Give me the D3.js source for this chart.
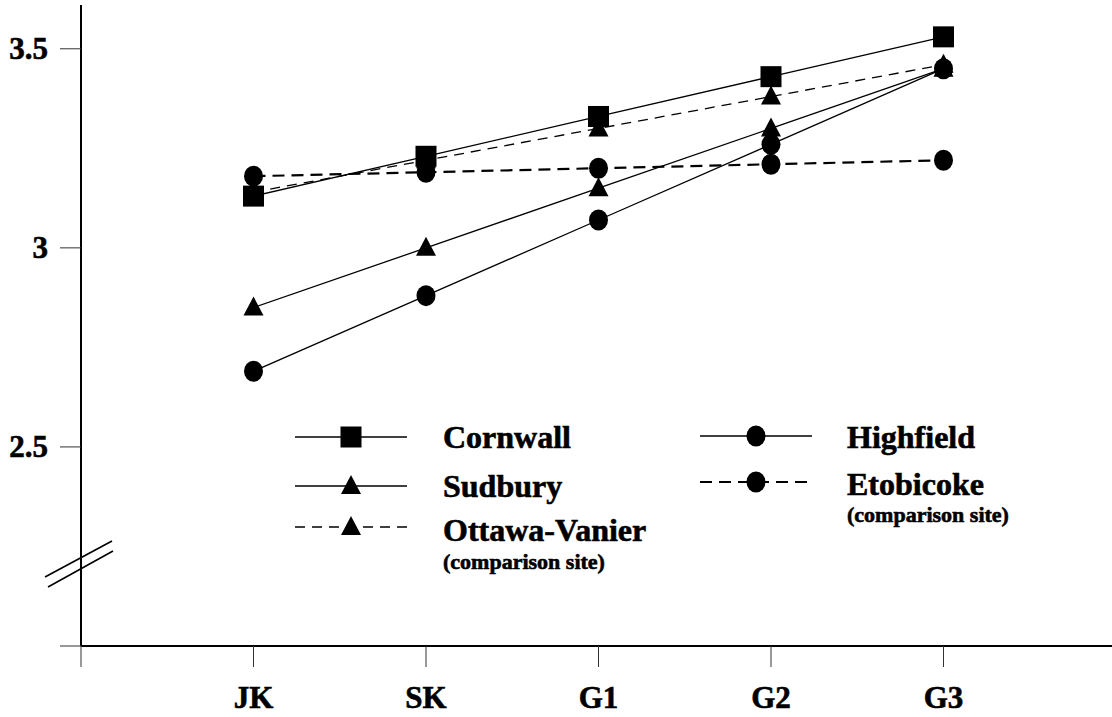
<!DOCTYPE html>
<html>
<head>
<meta charset="utf-8">
<script src="https://cdn.jsdelivr.net/npm/d3@7"></script>
<style>
  html, body { margin: 0; padding: 0; background: #fff; }
  svg { display: block; }
  text { font-family: "Liberation Serif", "Times New Roman", serif; font-weight: bold; fill: #000; stroke: #000; stroke-width: 0.6px; }
</style>
</head>
<body>
<svg id="chart" width="1112" height="717"></svg>
<script>
// ---- data ----
const grades = ["JK", "SK", "G1", "G2", "G3"];
const yTicks = [2.5, 3, 3.5];
const cornwall = [3.13, 3.23, 3.33, 3.43, 3.53];
const sudbury = [2.85, 3.00, 3.15, 3.30, 3.45];
const ottawaVanier = [3.14, 3.22, 3.30, 3.38, 3.46];
const highfield = [2.69, 2.88, 3.07, 3.26, 3.45];
const etobicoke = [3.18, 3.19, 3.20, 3.21, 3.22];

const series = [
  { name: "Ottawa-Vanier", sub: "(comparison site)", values: ottawaVanier, marker: "triangle", dash: "10,7", width: 1.3 },
  { name: "Etobicoke", sub: "(comparison site)", values: etobicoke, marker: "circle", dash: "12,7", width: 2.2 },
  { name: "Highfield", values: highfield, marker: "circle", dash: null, width: 1.3 },
  { name: "Sudbury", values: sudbury, marker: "triangle", dash: null, width: 1.3 },
  { name: "Cornwall", values: cornwall, marker: "square", dash: null, width: 1.3 }
];

const svg = d3.select("#chart");
const x = d3.scaleLinear().domain([0, 6]).range([81, 1116]);
const y = d3.scaleLinear().domain([2, 3.61]).range([646, 5]);

// y axis
svg.append("line").attr("x1", x(0)).attr("x2", x(0)).attr("y1", y(3.61)).attr("y2", y(2))
  .attr("stroke", "#000").attr("stroke-width", 2);
// x axis
svg.append("line").attr("x1", x(0)).attr("x2", 1112).attr("y1", y(2)).attr("y2", y(2))
  .attr("stroke", "#000").attr("stroke-width", 2.2);

// y ticks
const yT = svg.append("g");
[2].concat(yTicks).forEach(v => {
  yT.append("line").attr("x1", 60).attr("x2", x(0)).attr("y1", y(v)).attr("y2", y(v))
    .attr("stroke", "#333").attr("stroke-width", 1);
});
yTicks.forEach(v => {
  yT.append("text").attr("x", 48).attr("y", y(v)).attr("dy", "0.34em")
    .attr("text-anchor", "end").attr("font-size", 31).text(d3.format("")(v));
});

// x ticks
const xT = svg.append("g");
[0, 1, 2, 3, 4, 5].forEach(i => {
  xT.append("line").attr("x1", x(i)).attr("x2", x(i)).attr("y1", y(2)).attr("y2", 667)
    .attr("stroke", "#333").attr("stroke-width", 1);
});
grades.forEach((g, i) => {
  xT.append("text").attr("x", x(i + 1)).attr("y", 708).attr("text-anchor", "middle")
    .attr("font-size", 31).text(g);
});

// axis break
[[45, 577, 112, 541], [48, 587, 113, 551]].forEach(d => {
  svg.append("line").attr("x1", d[0]).attr("y1", d[1]).attr("x2", d[2]).attr("y2", d[3])
    .attr("stroke", "#000").attr("stroke-width", 1.6);
});

function drawMarker(g, type, cx, cy) {
  if (type === "square") {
    g.append("rect").attr("x", cx - 10.5).attr("y", cy - 10.5).attr("width", 21).attr("height", 21).attr("fill", "#000");
  } else if (type === "circle") {
    g.append("ellipse").attr("cx", cx).attr("cy", cy).attr("rx", 9.5).attr("ry", 10.5).attr("fill", "#000");
  } else {
    g.append("path").attr("d", `M${cx},${cy - 11}L${cx + 10},${cy + 8}L${cx - 10},${cy + 8}Z`).attr("fill", "#000");
  }
}

const line = d3.line().x((d, i) => x(i + 1)).y(d => y(d));
const plot = svg.append("g");
series.forEach(s => {
  plot.append("path").attr("d", line(s.values)).attr("fill", "none").attr("stroke", "#000")
    .attr("stroke-width", s.width).attr("stroke-dasharray", s.dash);
});
series.forEach(s => {
  const g = plot.append("g");
  s.values.forEach((v, i) => drawMarker(g, s.marker, x(i + 1), y(v)));
});

// legend
const legendItems = [
  { s: series[4], lx: 295, ly: 437, tx: 443, ty: 448 },
  { s: series[3], lx: 295, ly: 486, tx: 443, ty: 497 },
  { s: series[0], lx: 295, ly: 527, tx: 443, ty: 541, subY: 569 },
  { s: series[2], lx: 700, ly: 436, tx: 847, ty: 448 },
  { s: series[1], lx: 700, ly: 482, tx: 847, ty: 495, subY: 522 }
];
const leg = svg.append("g");
legendItems.forEach(it => {
  leg.append("line").attr("x1", it.lx).attr("x2", it.lx + 112).attr("y1", it.ly).attr("y2", it.ly)
    .attr("stroke", "#000").attr("stroke-width", it.s.width).attr("stroke-dasharray", it.s.dash);
  drawMarker(leg, it.s.marker, it.lx + 56, it.ly);
  leg.append("text").attr("x", it.tx).attr("y", it.ty).attr("font-size", 32).text(it.s.name);
  if (it.s.sub) {
    leg.append("text").attr("x", it.tx).attr("y", it.subY).attr("font-size", 22).text(it.s.sub);
  }
});
</script>
</body>
</html>
